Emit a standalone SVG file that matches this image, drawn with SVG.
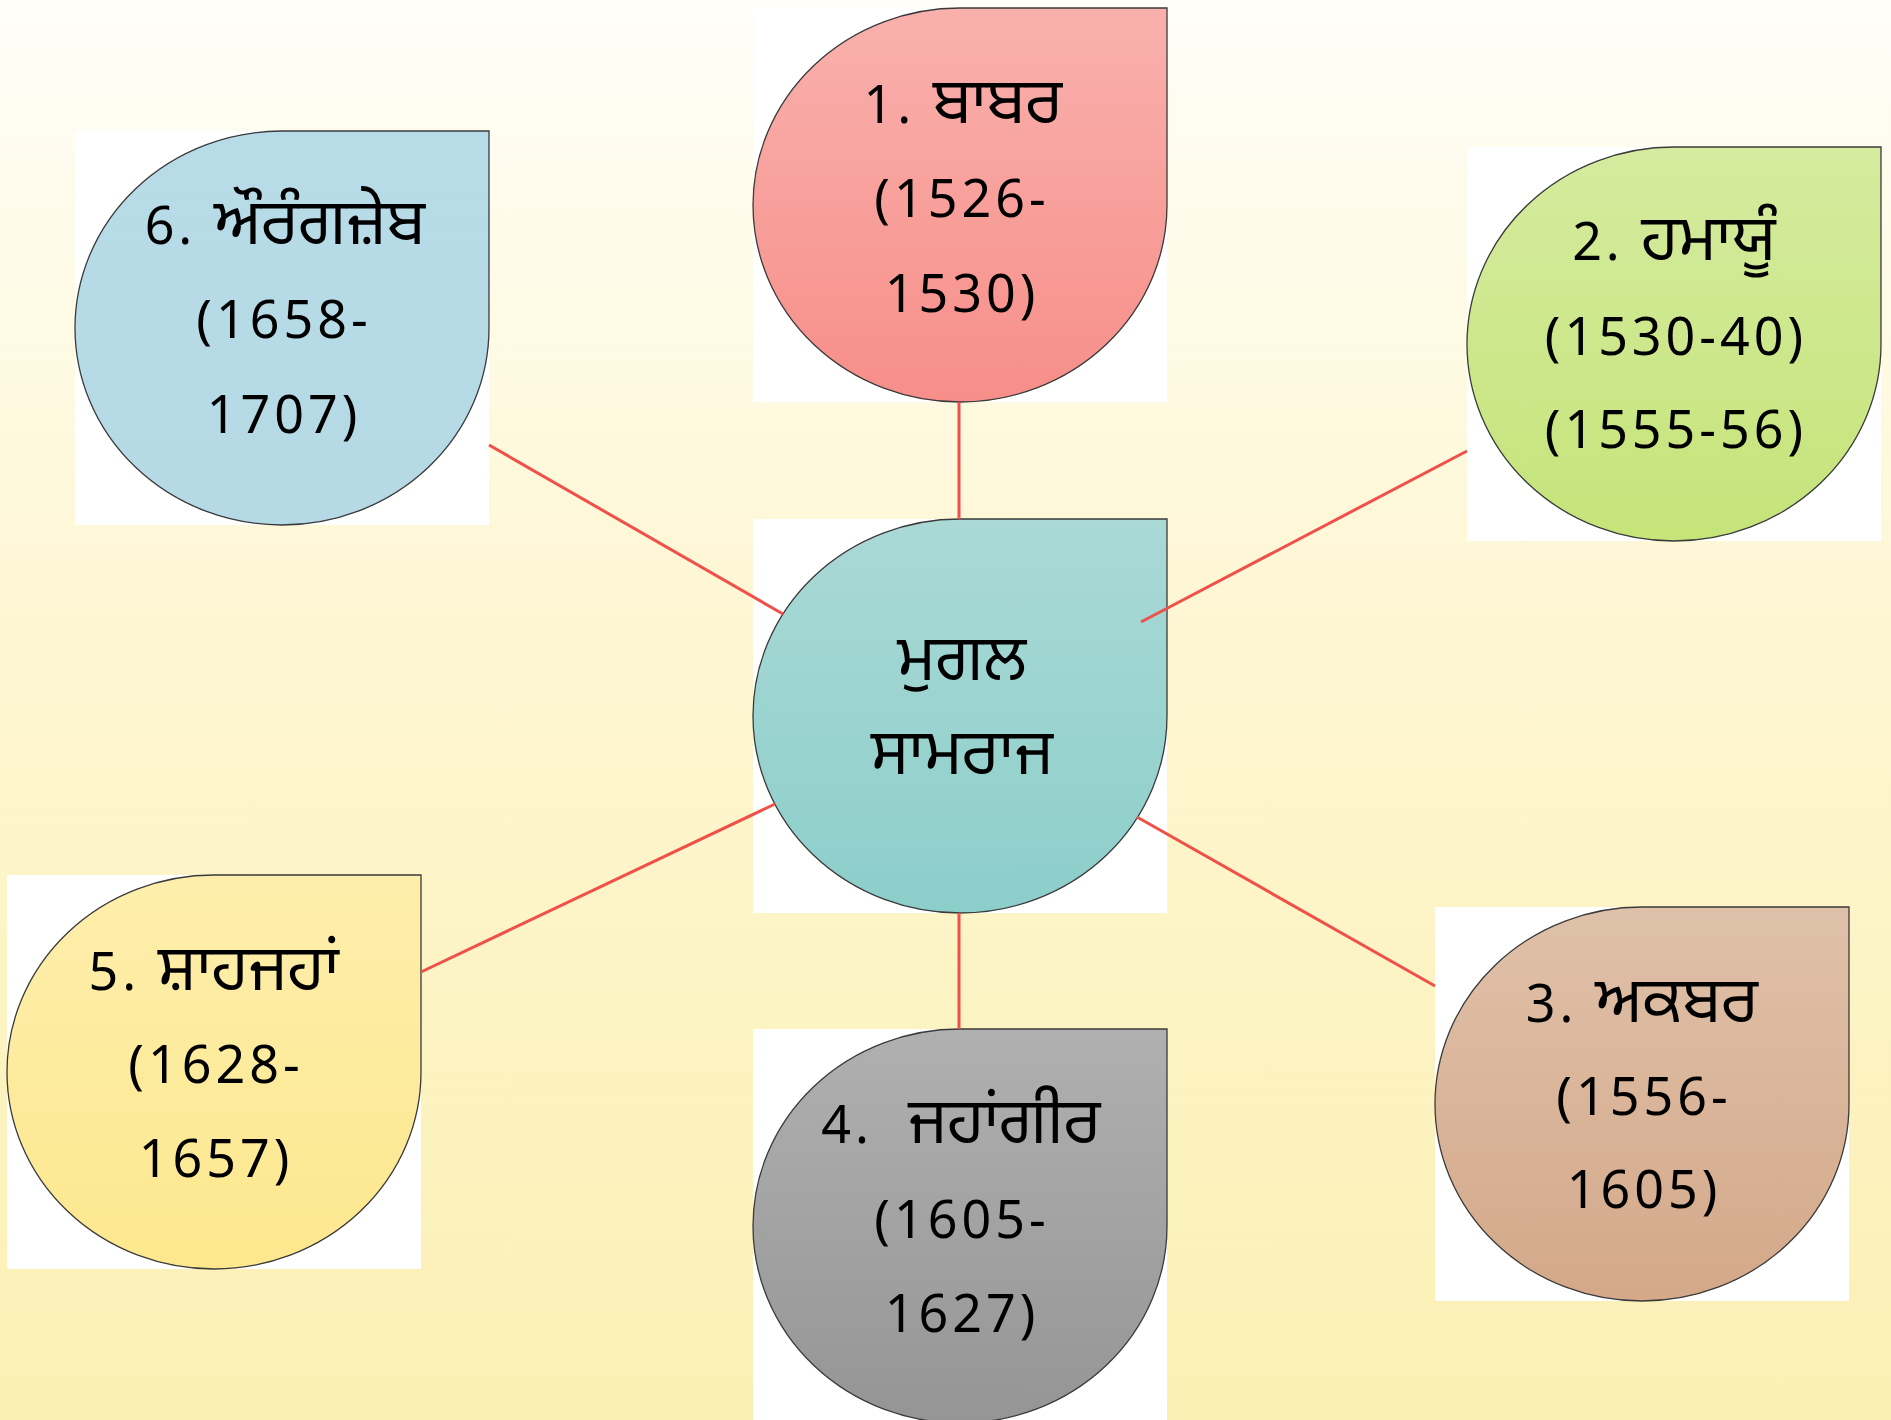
<svg xmlns="http://www.w3.org/2000/svg" width="1891" height="1420" viewBox="0 0 1891 1420">
<defs>
<linearGradient id="bg" x1="0" y1="0" x2="0" y2="1">
<stop offset="0" stop-color="#FFFEF8"/>
<stop offset="0.45" stop-color="#FEF6D2"/>
<stop offset="1" stop-color="#FBF0B3"/>
</linearGradient>
<linearGradient id="g1" x1="0" y1="0" x2="0" y2="1"><stop offset="0" stop-color="#F9B1AD"/><stop offset="1" stop-color="#F78E89"/></linearGradient>
<linearGradient id="gc" x1="0" y1="0" x2="0" y2="1"><stop offset="0" stop-color="#AAD9D6"/><stop offset="1" stop-color="#8CCECA"/></linearGradient>
<linearGradient id="g2" x1="0" y1="0" x2="0" y2="1"><stop offset="0" stop-color="#D5EB9F"/><stop offset="1" stop-color="#C5E479"/></linearGradient>
<linearGradient id="g3" x1="0" y1="0" x2="0" y2="1"><stop offset="0" stop-color="#DFC1A9"/><stop offset="1" stop-color="#D4A889"/></linearGradient>
<linearGradient id="g4" x1="0" y1="0" x2="0" y2="1"><stop offset="0" stop-color="#B0B0B0"/><stop offset="1" stop-color="#959595"/></linearGradient>
<linearGradient id="g5" x1="0" y1="0" x2="0" y2="1"><stop offset="0" stop-color="#FDEEAC"/><stop offset="1" stop-color="#FDE88E"/></linearGradient>
<linearGradient id="g6" x1="0" y1="0" x2="0" y2="1"><stop offset="0" stop-color="#B8DCE7"/><stop offset="1" stop-color="#B6DAE5"/></linearGradient>
</defs>
<style>
.box{fill:#FFFFFF}
.drop{stroke:#3A3A3A;stroke-width:1.3}
.t{font-family:"Noto Sans","Noto Sans Gurmukhi","DejaVu Sans",sans-serif;font-size:52px;fill:#000;text-anchor:middle}
.d{letter-spacing:4px}
.g{font-size:64px}
.c{stroke:#EF5149;stroke-width:3;fill:none}
</style>
<rect x="0" y="0" width="1891" height="1420" fill="url(#bg)"/>

<g id="node-center" transform="translate(753,519)">
<rect class="box" width="414" height="394"/>
<path class="drop" fill="url(#gc)" d="M207,0 H414 V197 A207,197 0 0 1 207,394 A207,197 0 0 1 0,197 A207,197 0 0 1 207,0 Z"/>
<text class="t g" x="209" y="161">ਮੁਗਲ</text>
<text class="t g" x="209" y="255">ਸਾਮਰਾਜ</text>
</g>

<g id="node-1" transform="translate(753,8)">
<rect class="box" width="414" height="394"/>
<path class="drop" fill="url(#g1)" d="M207,0 H414 V197 A207,197 0 0 1 207,394 A207,197 0 0 1 0,197 A207,197 0 0 1 207,0 Z"/>
<text class="t" x="210" y="115"><tspan class="d">1. </tspan><tspan class="g">ਬਾਬਰ</tspan></text>
<text class="t d" x="209" y="209">(1526-</text>
<text class="t d" x="209" y="304">1530)</text>
</g>

<g id="node-2" transform="translate(1467,147)">
<rect class="box" width="414" height="394"/>
<path class="drop" fill="url(#g2)" d="M207,0 H414 V197 A207,197 0 0 1 207,394 A207,197 0 0 1 0,197 A207,197 0 0 1 207,0 Z"/>
<text class="t" x="207" y="113"><tspan class="d">2. </tspan><tspan class="g">ਹਮਾਯੂੰ</tspan></text>
<text class="t d" x="209" y="208">(1530-40)</text>
<text class="t d" x="209" y="301">(1555-56)</text>
</g>

<g id="node-3" transform="translate(1435,907)">
<rect class="box" width="414" height="394"/>
<path class="drop" fill="url(#g3)" d="M207,0 H414 V197 A207,197 0 0 1 207,394 A207,197 0 0 1 0,197 A207,197 0 0 1 207,0 Z"/>
<text class="t" x="207" y="115"><tspan class="d">3. </tspan><tspan class="g">ਅਕਬਰ</tspan></text>
<text class="t d" x="209" y="208">(1556-</text>
<text class="t d" x="209" y="301">1605)</text>
</g>

<g id="node-4" transform="translate(753,1029)">
<rect class="box" width="414" height="394"/>
<path class="drop" fill="url(#g4)" d="M207,0 H414 V197 A207,197 0 0 1 207,394 A207,197 0 0 1 0,197 A207,197 0 0 1 207,0 Z"/>
<text class="t" x="208" y="114" xml:space="preserve"><tspan class="d">4.  </tspan><tspan class="g">ਜਹਾਂਗੀਰ</tspan></text>
<text class="t d" x="209" y="209">(1605-</text>
<text class="t d" x="209" y="303">1627)</text>
</g>

<g id="node-5" transform="translate(7,875)">
<rect class="box" width="414" height="394"/>
<path class="drop" fill="url(#g5)" d="M207,0 H414 V197 A207,197 0 0 1 207,394 A207,197 0 0 1 0,197 A207,197 0 0 1 207,0 Z"/>
<text class="t" x="207" y="115"><tspan class="d">5. </tspan><tspan class="g">ਸ਼ਾਹਜਹਾਂ</tspan></text>
<text class="t d" x="209" y="208">(1628-</text>
<text class="t d" x="209" y="302">1657)</text>
</g>

<g id="node-6" transform="translate(75,131)">
<rect class="box" width="414" height="394"/>
<path class="drop" fill="url(#g6)" d="M207,0 H414 V197 A207,197 0 0 1 207,394 A207,197 0 0 1 0,197 A207,197 0 0 1 207,0 Z"/>
<text class="t" x="210" y="113"><tspan class="d">6. </tspan><tspan class="g">ਔਰੰਗਜ਼ੇਬ</tspan></text>
<text class="t d" x="209" y="207">(1658-</text>
<text class="t d" x="209" y="302">1707)</text>
</g>

<g id="connectors">
<line class="c" x1="959" y1="402" x2="959" y2="519"/>
<line class="c" x1="1141" y1="622" x2="1467" y2="451"/>
<line class="c" x1="1137" y1="817" x2="1435" y2="986"/>
<line class="c" x1="959" y1="913" x2="959" y2="1029"/>
<line class="c" x1="775" y1="804" x2="421" y2="972"/>
<line class="c" x1="783" y1="614" x2="489" y2="445"/>
</g>
</svg>
